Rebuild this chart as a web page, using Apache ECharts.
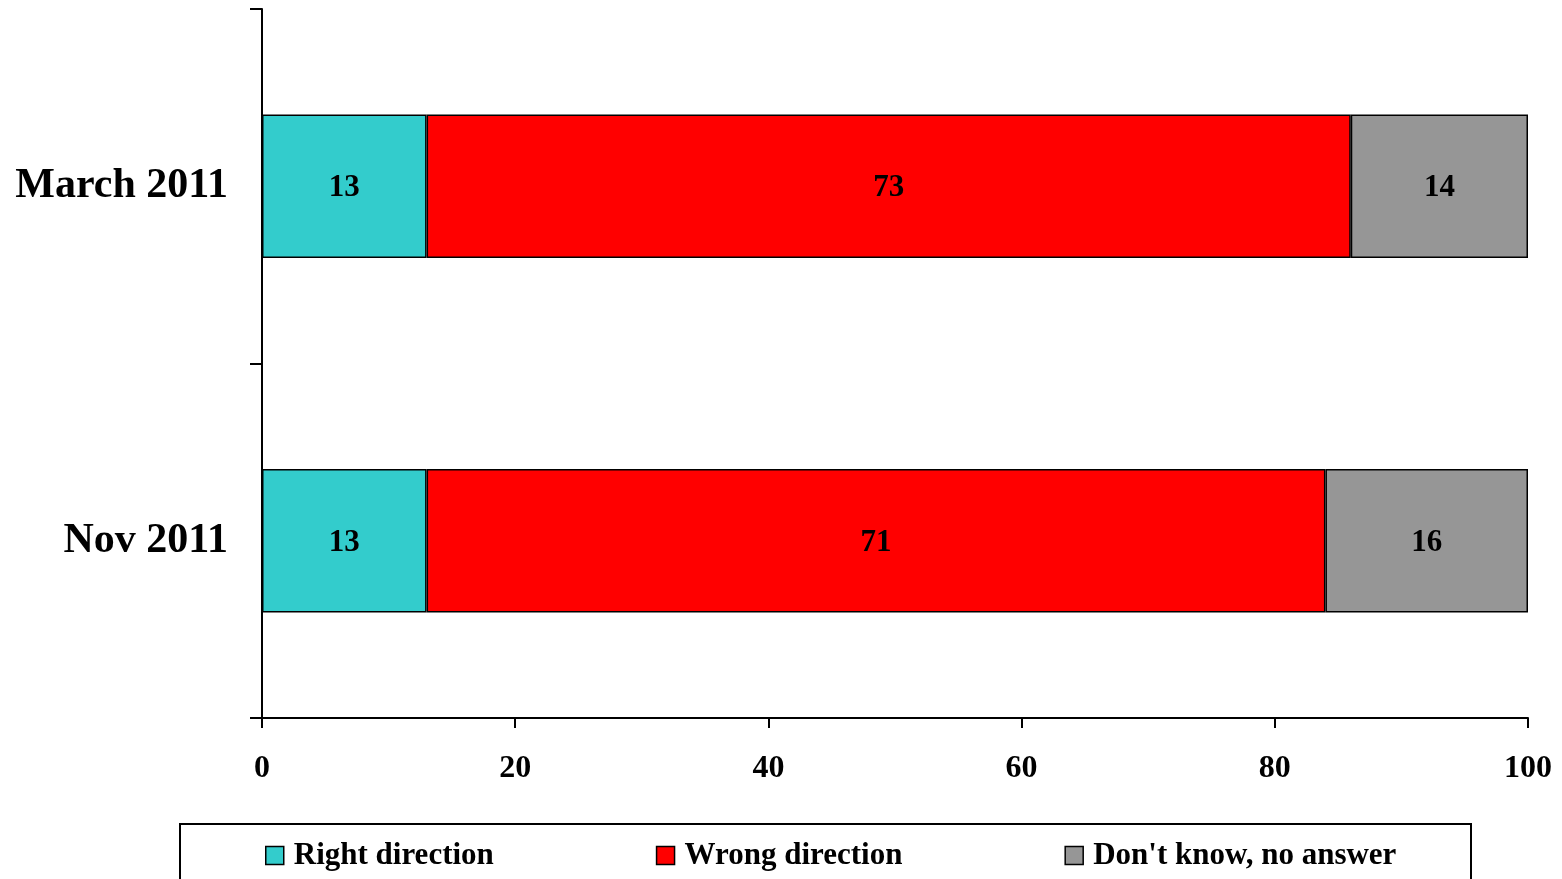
<!DOCTYPE html>
<html><head><meta charset="utf-8">
<script src="https://cdn.jsdelivr.net/npm/echarts@6/dist/echarts.min.js"></script>
<style>html,body{margin:0;padding:0;background:#fff}#c{width:1562px;height:879px}</style>
</head><body><div id="c"></div>
<script>
const categories = ['March 2011', 'Nov 2011'];
const seriesNames = ['Right direction', 'Wrong direction', "Don't know, no answer"];
const rightDir = [13, 13];
const wrongDir = [73, 71];
const dontKnow = [14, 16];
const xTicks = [0, 20, 40, 60, 80, 100];
const colors = ['#33CCCC', '#FF0000', '#969696'];

const FONT = '"Liberation Serif", "Times New Roman", serif';
const chart = echarts.init(document.getElementById('c'));
const values = [rightDir, wrongDir, dontKnow];
chart.setOption({
  animation: false,
  textStyle: { fontFamily: FONT },
  grid: { left: 262, right: 34, top: 9, bottom: 161, containLabel: false },
  legend: {
    left: 265, top: 840, itemGap: 162, itemWidth: 18, itemHeight: 18, padding: 0,
    icon: 'rect',
    itemStyle: { borderColor: '#000', borderWidth: 1.5 },
    textStyle: { fontFamily: FONT, fontWeight: 'bold', fontSize: 31, color: '#000', padding: [0, 0, 0, 5] },
    data: seriesNames
  },
  xAxis: {
    type: 'value', min: xTicks[0], max: xTicks[xTicks.length - 1], interval: 20,
    axisLine: { show: true, lineStyle: { color: '#000', width: 2 } },
    axisTick: { show: true, length: 10, lineStyle: { color: '#000', width: 2 } },
    splitLine: { show: false },
    axisLabel: { fontFamily: FONT, fontWeight: 'bold', fontSize: 32, color: '#000', margin: 35 }
  },
  yAxis: {
    type: 'category', data: categories, inverse: true,
    axisLine: { show: true, lineStyle: { color: '#000', width: 2 } },
    axisTick: { show: true, length: 12, alignWithLabel: false, lineStyle: { color: '#000', width: 2 } },
    axisLabel: { fontFamily: FONT, fontWeight: 'bold', fontSize: 42, color: '#000', margin: 34 }
  },
  graphic: [{
    type: 'rect', shape: { x: 180, y: 824, width: 1291, height: 80 },
    style: { fill: 'none', stroke: '#000', lineWidth: 2 }, z: 10
  }],
  series: seriesNames.map((n, i) => ({
    name: n, type: 'bar', stack: 'total', data: values[i], barWidth: '40.5%',
    itemStyle: { color: colors[i], borderColor: '#000', borderWidth: 1.5 },
    label: { show: true, position: 'inside', offset: [0, 2], fontFamily: FONT, fontWeight: 'bold', fontSize: 31, color: '#000' }
  }))
});
</script></body></html>
